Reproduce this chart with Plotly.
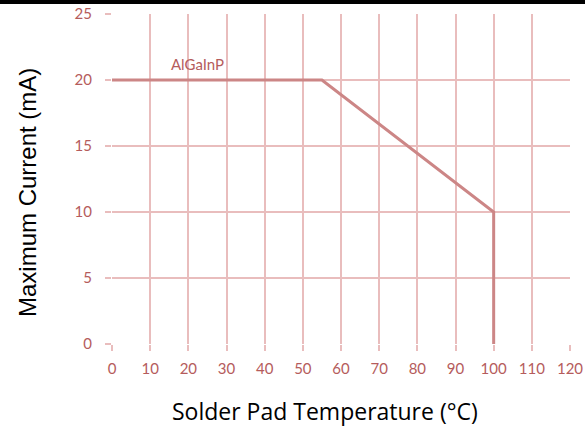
import plotly.graph_objects as go

temp = [0, 55, 100, 100]
current = [20, 20, 10, 0]
x_ticks = [0, 10, 20, 30, 40, 50, 60, 70, 80, 90, 100, 110, 120]
y_ticks = [0, 5, 10, 15, 20, 25]
series_label = "AlGaInP"

W, H = 585, 427
L, R, T, B = 112, 15, 14, 83
pw, ph = W - L - R, H - T - B

grid_c = "#e9bdbd"
line_c = "#cc8686"
tick_c = "#b55c5c"

fig = go.Figure()
fig.add_trace(go.Scatter(x=temp, y=current, mode="lines",
                         line=dict(color=line_c, width=3), showlegend=False))

fig.update_layout(
    width=W, height=H,
    margin=dict(l=L, r=R, t=T, b=B, autoexpand=False),
    paper_bgcolor="white", plot_bgcolor="white",
    xaxis=dict(range=[0, 120], tickvals=x_ticks, ticktext=[str(v) for v in x_ticks],
               showgrid=True, gridcolor=grid_c, gridwidth=1.5, automargin=False,
               zeroline=False, showline=False,
               ticks="outside", ticklen=6, tickcolor=grid_c, tickwidth=1.5,
               tickfont=dict(family="Lato", size=15, color=tick_c),
               ticklabelstandoff=5),
    yaxis=dict(range=[0, 25], tickvals=y_ticks, ticktext=[str(v) for v in y_ticks],
               showgrid=True, gridcolor=grid_c, gridwidth=1.5, automargin=False,
               zeroline=False, showline=False,
               ticks="outside", ticklen=6, tickcolor=grid_c, tickwidth=1.5,
               tickfont=dict(family="Lato", size=15, color=tick_c),
               ticklabelstandoff=10),
    font=dict(family="Lato"),
)

fig.add_annotation(x=22.5, y=21.2, text=series_label, showarrow=False,
                   font=dict(family="Lato", size=15, color=tick_c))

# axis titles
fig.add_annotation(xref="paper", yref="paper", x=(325 - L) / pw, y=-(411 - T - ph) / ph,
                   text="Solder Pad Temperature (°C)", showarrow=False,
                   font=dict(family="Open Sans", size=23, color="black"),
                   xanchor="center", yanchor="middle")
fig.add_annotation(xref="paper", yref="paper", x=-(L - 27) / pw, y=(T + ph - 193) / ph,
                   text="Maximum Current (mA)", showarrow=False, textangle=-90,
                   font=dict(family="Liberation Sans", size=24, color="black"),
                   xanchor="center", yanchor="middle")

# black strip across the top edge
fig.add_shape(type="rect", xref="paper", yref="paper",
              x0=-L / pw, x1=1 + R / pw, y0=1 + (T - 4) / ph, y1=1 + T / ph,
              fillcolor="black", line=dict(width=0), layer="above")

fig.write_html("out.html",
               config={"displayModeBar": False},
               post_script="document.body.style.margin='0';document.body.style.overflow='hidden';"
                           "var d=document.getElementById('{plot_id}');"
                           "if(d){d.style.position='absolute';d.style.top='0px';d.style.left='0px';}")
